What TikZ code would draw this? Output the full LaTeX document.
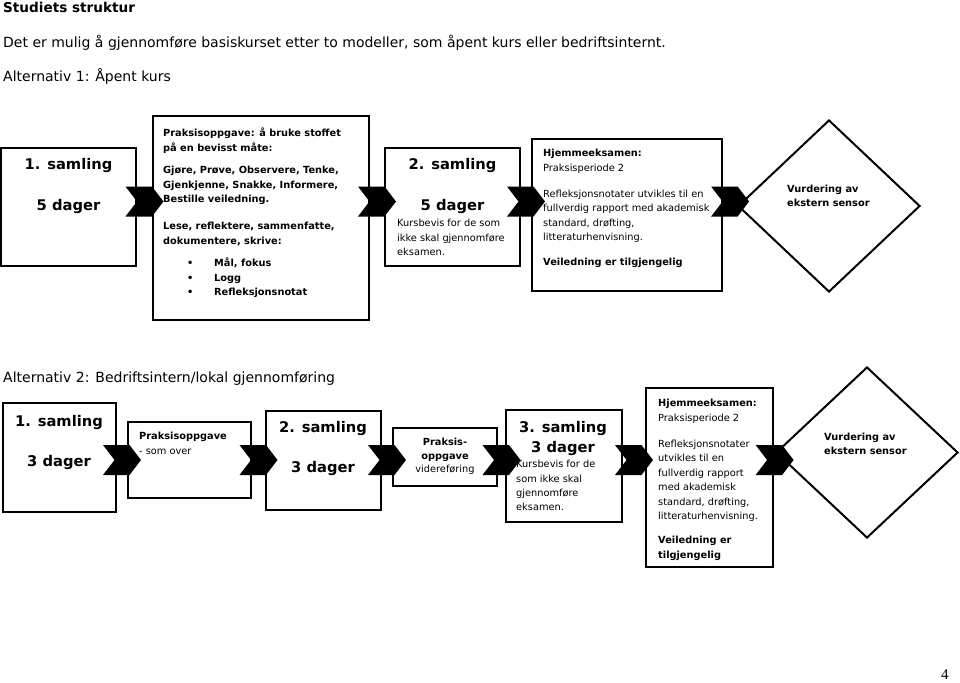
\documentclass[tikz,border=0pt]{standalone}
\usepackage{fontspec}
\setmainfont{DejaVu Sans}
\newfontfamily\pagefont{Liberation Serif}
\usetikzlibrary{calc,shapes.geometric,shapes.symbols}

\newcommand{\bulletitem}{\hspace*{24pt}\makebox[27pt][l]{\textbullet}}

\tikzset{
  box/.style={draw, line width=2.4pt, inner sep=0pt},
  rhomb/.style={draw, diamond, line width=2pt, inner sep=0pt, minimum width=182, minimum height=172},
  chev/.style={signal, fill=black, signal from=west, signal to=east, signal pointer angle=105,
    minimum width=38, minimum height=30, inner sep=0pt},
  title/.style={font=\bfseries\fontsize{14.7}{18}\selectfont, align=center, inner sep=0pt},
  body/.style={font=\fontsize{9.8}{14.4}\selectfont, align=left, anchor=north west, inner sep=0pt},
  head/.style={font=\fontsize{14}{17}\selectfont, anchor=base west, inner sep=0pt},
}

\begin{document}
\begin{tikzpicture}[x=1pt, y=-1pt]
  \useasboundingbox (0,0) rectangle (960,682);

  % headings
  \node[head, font=\bfseries\fontsize{13.6}{17}\selectfont] (h0) at (3,13) {Studiets struktur};
  \node[head] (h1) at (3,48) {Det er mulig å gjennomføre basiskurset etter to modeller, som åpent kurs eller bedriftsinternt.};
  \node[head] (h2) at (3,82) {Alternativ 1: Åpent kurs};
  \node[head] (h3) at (3,382) {Alternativ 2: Bedriftsintern/lokal gjennomføring};

  % Alternativ 1
  \node[box, minimum width=135, minimum height=118] (a1) at (68.5,207) {};
  \node[box, minimum width=216, minimum height=204] (a2) at (261,218) {};
  \node[box, minimum width=135, minimum height=118] (a3) at (452.5,207) {};
  \node[box, minimum width=190, minimum height=152] (a4) at (627,215) {};
  \node[rhomb] (a5) at (829,206) {};

  \node[title] (a1t) at (68.5,186.5) {1. samling\\[23pt]5 dager};
  \node[body, font=\bfseries\fontsize{9.8}{14.4}\selectfont] (a2t) at (163,128)
    {Praksisoppgave: å bruke stoffet\\på en bevisst måte:\\[8pt]
     Gjøre, Prøve, Observere, Tenke,\\Gjenkjenne, Snakke, Informere,\\Bestille veiledning.\\[13pt]
     Lese, reflektere, sammenfatte,\\dokumentere, skrive:\\[8pt]
     \bulletitem Mål, fokus\\\bulletitem Logg\\\bulletitem Refleksjonsnotat};
  \node[title] (a3t) at (452.5,186.5) {2. samling\\[23pt]5 dager};
  \node[body] (a3b) at (397,219) {Kursbevis for de som\\ikke skal gjennomføre\\eksamen.};
  \node[body] (a4t) at (543,149)
    {\textbf{Hjemmeeksamen:}\\Praksisperiode 2\\[12pt]
     Refleksjonsnotater utvikles til en\\fullverdig rapport med akademisk\\standard, drøfting,\\litteraturhenvisning.\\[10pt]
     \textbf{Veiledning er tilgjengelig}};
  \node[body, font=\bfseries\fontsize{9.8}{13.5}\selectfont] (a5t) at (787,185) {Vurdering av\\ekstern sensor};

  \coordinate (rowa) at (0,201.5);
  \node[chev] (c1) at ($(a1.east |- rowa)!.5!(a2.west |- rowa)$) {};
  \node[chev] (c2) at ($(a2.east |- rowa)!.5!(a3.west |- rowa)$) {};
  \node[chev] (c3) at ($(a3.east |- rowa)!.5!(a4.west |- rowa)$) {};
  \node[chev] (c4) at ($(a4.east |- rowa)!.5!(a5.west |- rowa)$) {};

  % Alternativ 2
  \node[box, minimum width=113, minimum height=109] (b1) at (59.5,457.5) {};
  \node[box, minimum width=123, minimum height=76] (b2) at (189.5,460) {};
  \node[box, minimum width=115, minimum height=99] (b3) at (323.5,460.5) {};
  \node[box, minimum width=104, minimum height=58] (b4) at (445,457) {};
  \node[box, minimum width=116, minimum height=112] (b5) at (564,466) {};
  \node[box, minimum width=127, minimum height=179] (b6) at (709.5,477.5) {};
  \node[rhomb, minimum height=171] (b7) at (867,452.5) {};

  \node[title] (b1t) at (59,442) {1. samling\\[22pt]3 dager};
  \node[body] (b2t) at (139,432) {\textbf{Praksisoppgave}\\- som over};
  \node[title] (b3t) at (323,448) {2. samling\\[22pt]3 dager};
  \node[body, align=center, anchor=north, font=\fontsize{9.8}{13.5}\selectfont] (b4t) at (445,438)
    {\textbf{Praksis-}\\\textbf{oppgave}\\videreføring};
  \node[title] (b5t) at (563,438) {3. samling\\[2pt]3 dager};
  \node[body] (b5b) at (516,460) {Kursbevis for de\\som ikke skal\\gjennomføre\\eksamen.};
  \node[body] (b6t) at (658,399)
    {\textbf{Hjemmeeksamen:}\\Praksisperiode 2\\[12pt]
     Refleksjonsnotater\\utvikles til en\\fullverdig rapport\\med akademisk\\standard, drøfting,\\litteraturhenvisning.\\[10pt]
     \textbf{Veiledning er}\\\textbf{tilgjengelig}};
  \node[body, font=\bfseries\fontsize{9.8}{13.5}\selectfont] (b7t) at (824,433) {Vurdering av\\ekstern sensor};

  \coordinate (rowb) at (0,460);
  \node[chev] (d1) at ($(b1.east |- rowb)!.5!(b2.west |- rowb)$) {};
  \node[chev] (d2) at ($(b2.east |- rowb)!.5!(b3.west |- rowb)$) {};
  \node[chev] (d3) at ($(b3.east |- rowb)!.5!(b4.west |- rowb)$) {};
  \node[chev] (d4) at ($(b4.east |- rowb)!.5!(b5.west |- rowb)$) {};
  \node[chev] (d5) at ($(b5.east |- rowb)!.5!(b6.west |- rowb)$) {};
  \node[chev] (d6) at ($(b6.east |- rowb)!.5!(b7.west |- rowb)$) {};

  \node[anchor=base west, inner sep=0pt, font=\pagefont\fontsize{15}{18}\selectfont] (pg) at (941,679) {4};
\end{tikzpicture}
\end{document}
